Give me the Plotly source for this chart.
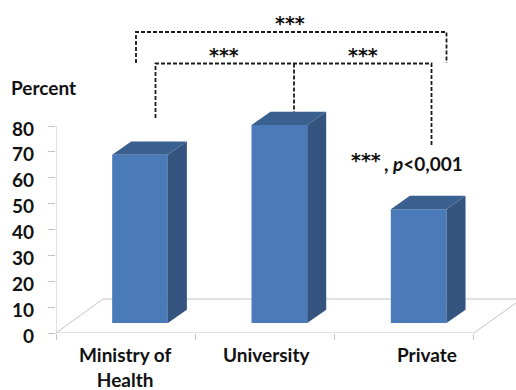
import plotly.graph_objects as go

categories = ["Ministry of<br>Health", "University", "Private"]
values = [65, 76.5, 44]
y_ticks = [0, 10, 20, 30, 40, 50, 60, 70, 80]
x_ticks = [0, 1, 2, 3]

FONT = "Lato, Carlito, 'Open Sans', sans-serif"
STAR_FONT = "'DejaVu Sans', sans-serif"
W, H = 516, 390
L, B = 56, 57
PX_X = 139.33
PX_Y = 2.5875
x_max = (W - L) / PX_X
y_max = (H - B) / PX_Y
INK = "#111111"


def xd(px):
    return (px - L) / PX_X


def yd(px):
    return (H - B - px) / PX_Y


def xp(px):
    return (px - L) / (W - L)


def yp(px):
    return (H - B - px) / (H - B)


base = yd(323)
bar_w = 55.7 / PX_X
dx = 19 / PX_X
dy = 13.3 / PX_Y
centres = [i + 0.603 for i in range(len(values))]
FRONT, SIDE, TOP = "#4a7ab8", "#34547f", "#3a6090"
GREY = "#c4c4c4"

fig = go.Figure()
fig.add_trace(go.Bar(x=centres, y=values, base=base, width=bar_w, marker=dict(color=FRONT, line=dict(width=0)),
                     hoverinfo="skip", showlegend=False))

for c, v in zip(centres, values):
    r = c + bar_w / 2
    l = c - bar_w / 2
    t = base + v
    fig.add_trace(go.Scatter(x=[r, r + dx, r + dx, r, r], y=[base, base + dy, t + dy, t, base], mode="lines",
                             fill="toself", fillcolor=SIDE, line=dict(width=0), hoverinfo="skip", showlegend=False))
    fig.add_trace(go.Scatter(x=[l, l + dx, r + dx, r, l], y=[t, t + dy, t + dy, t, t], mode="lines",
                             fill="toself", fillcolor=TOP, line=dict(width=0), hoverinfo="skip", showlegend=False))

brackets = [
    ([136, 136, 446.5, 446.5], [63, 32, 32, 63]),
    ([155.5, 155.5, 431.5, 431.5], [118, 63.5, 63.5, 145]),
    ([294, 294], [63.5, 112]),
]
for bx, by in brackets:
    fig.add_trace(go.Scatter(x=[xd(p) for p in bx], y=[yd(p) for p in by], mode="lines",
                             line=dict(color="#1a1a1a", width=1.8, dash="4px,2px"),
                             hoverinfo="skip", showlegend=False))

shapes = [
    dict(type="line", x0=0, x1=0, y0=0, y1=80, line=dict(color=GREY, width=1), layer="below"),
    dict(type="line", x0=0, x1=3, y0=0, y1=0, line=dict(color=GREY, width=1), layer="below"),
    dict(type="line", x0=0, x1=xd(103), y0=0, y1=yd(299), line=dict(color=GREY, width=1), layer="below"),
    dict(type="line", x0=xd(103), x1=x_max, y0=yd(299), y1=yd(299), line=dict(color=GREY, width=1), layer="below"),
    dict(type="line", x0=3, x1=x_max, y0=0, y1=yd(303), line=dict(color=GREY, width=1), layer="below"),
]

label_px = [125, 267, 427]
annotations = [
    dict(xref="paper", yref="paper", x=xp(p), y=yp(340.5), text=f"<b>{c}</b>", showarrow=False,
         xanchor="center", yanchor="top", font=dict(family=FONT, size=19, color=INK), align="center")
    for p, c in zip(label_px, categories)
]
for v in y_ticks:
    annotations.append(dict(xref="paper", yref="y", x=xp(36), y=v, yshift=-2, text=f"<b>{v}</b>", showarrow=False,
                            xanchor="right", yanchor="middle", font=dict(family=FONT, size=19, color=INK)))
for p, y, s in [(290, 23, "***"), (223.5, 55, "***"), (363, 55, "***")]:
    annotations.append(dict(xref="paper", yref="paper", x=xp(p), y=yp(y), text=f"<b>{s}</b>", showarrow=False,
                            xanchor="center", yanchor="middle", font=dict(family=STAR_FONT, size=19, color=INK)))
annotations.append(dict(xref="paper", yref="paper", x=xp(349), y=yp(160), text="<b>***</b>", showarrow=False,
                        xanchor="left", yanchor="middle", font=dict(family=STAR_FONT, size=19, color=INK)))
annotations.append(dict(xref="paper", yref="paper", x=xp(465), y=yp(163), text="<b>, <i>p</i>&lt;0,001</b>",
                        showarrow=False, xanchor="right", yanchor="middle", font=dict(family=FONT, size=19, color=INK)))
annotations.append(dict(xref="paper", yref="paper", x=xp(9), y=yp(87), text="<b>Percent</b>", showarrow=False,
                        xanchor="left", yanchor="middle", font=dict(family=FONT, size=19, color=INK)))

fig.update_layout(
    width=W, height=H, autosize=False, margin=dict(l=L, r=0, t=0, b=B, pad=0),
    paper_bgcolor="white", plot_bgcolor="white", showlegend=False,
    shapes=shapes, annotations=annotations,
    xaxis=dict(range=[0, x_max], tickvals=x_ticks, ticktext=["", "", "", ""], ticks="outside", ticklen=6,
               tickcolor=GREY, showgrid=False, zeroline=False, showline=False),
    yaxis=dict(range=[0, y_max], tickvals=y_ticks, ticks="outside", ticklen=7, tickcolor=GREY,
               showgrid=False, zeroline=False, showline=False, showticklabels=False),
)
fig.write_html("out.html", config={"displayModeBar": False}, post_script="document.body.style.margin='0';")
